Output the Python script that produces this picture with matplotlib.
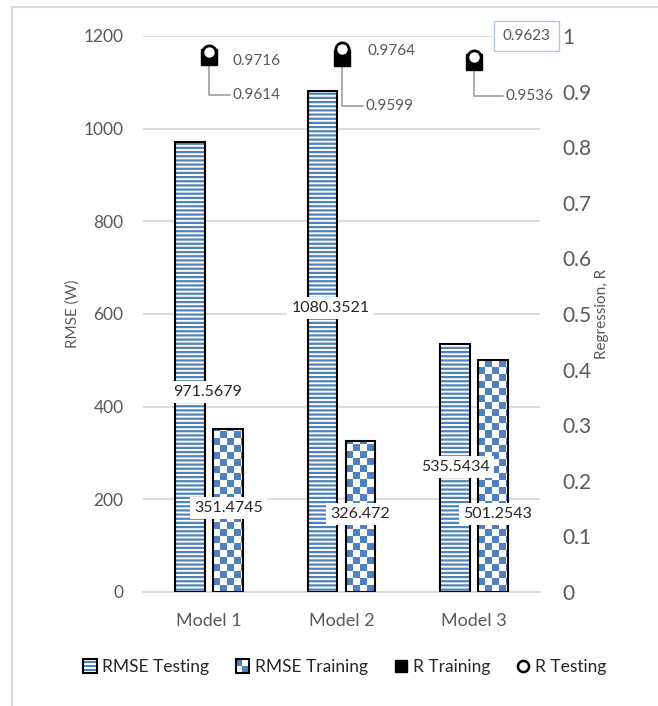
import numpy as np
import matplotlib.pyplot as plt
from matplotlib.patches import Rectangle
from matplotlib.lines import Line2D
from matplotlib.colors import ListedColormap
from matplotlib.legend_handler import HandlerBase

plt.rcParams['font.family'] = ['Lato', 'DejaVu Sans']
plt.rcParams['hatch.linewidth'] = 1.6

# data
models = ['Model 1', 'Model 2', 'Model 3']
rmse_testing = [971.5679, 1080.3521, 535.5434]
rmse_training = [351.4745, 326.472, 501.2543]
r_training = [0.9614, 0.9599, 0.9536]
r_testing = [0.9716, 0.9764, 0.9623]
rmse_ticks = [0, 200, 400, 600, 800, 1000, 1200]
r_ticks = [0, 0.1, 0.2, 0.3, 0.4, 0.5, 0.6, 0.7, 0.8, 0.9, 1]

# where the hand-placed value labels sit (x in category units, y in RMSE units)
test_lbl_pos = [(-0.01, 432), (0.917, 613), (1.86, 270)]
train_lbl_pos = [(0.147, 181), (1.14, 168), (2.18, 168)]
# R labels: offsets in points from the marker
r_test_off = [(17, -6.5), (18.7, -1.4), (37.8, 15.1)]
r_train_off = [(17, -27), (17.3, -34.5), (22.7, -24.5)]

blue = '#4F81BD'
grey_txt = '#595959'
grid_c = '#D9D9D9'

fig = plt.figure(figsize=(6.58, 7.06), dpi=100)
ax = fig.add_axes([143/658, 114/706, 397/658, 556/706])
ax2 = ax.twinx()

x = np.arange(len(models))
w = 0.225
off = 0.143

ax.set_xlim(-0.5, 2.5)
ax.set_ylim(0, 1200)
ax2.set_ylim(0, 1)

# testing bars: blue horizontal stripes
ax.bar(x - off, rmse_testing, w, color='white', edgecolor=blue, hatch='----', lw=0, zorder=2)
ax.bar(x - off, rmse_testing, w, fill=False, edgecolor='black', lw=1.5, zorder=3)

# training bars: checkerboard, built in ~7px cells and clipped to the bar
train_bars = ax.bar(x + off, rmse_training, w, fill=False, edgecolor='black', lw=1.5, zorder=3)
p0 = ax.transData.transform((0, 0))
p1 = ax.transData.transform((1, 1))
px_x = p1[0] - p0[0]
px_y = p1[1] - p0[1]
cell = 7.0
cmap = ListedColormap(['white', blue])
for b in train_bars:
    ncol = int(np.ceil(b.get_width() * px_x / cell))
    nrow = int(np.ceil(b.get_height() * px_y / cell))
    jj, ii = np.meshgrid(np.arange(ncol), np.arange(nrow))
    board = (ii + jj) % 2
    im = ax.imshow(board, extent=(b.get_x(), b.get_x() + ncol * cell / px_x, 0, nrow * cell / px_y),
                   origin='lower', cmap=cmap, interpolation='nearest', aspect='auto', zorder=2)
    im.set_clip_path(b)
ax.set_xlim(-0.5, 2.5)
ax.set_ylim(0, 1200)

# value labels on the bars
for v, (lx, ly) in zip(rmse_testing, test_lbl_pos):
    ax.text(lx, ly, str(v), ha='center', va='center', fontsize=11.5, color='#262626', zorder=6,
            bbox=dict(facecolor='white', edgecolor='none', pad=3))
for v, (lx, ly) in zip(rmse_training, train_lbl_pos):
    ax.text(lx, ly, str(v), ha='center', va='center', fontsize=11.5, color='#262626', zorder=6,
            bbox=dict(facecolor='white', edgecolor='none', pad=3))

# R markers
ax2.plot(x, r_training, 's', color='black', ms=11, zorder=4)
ax2.plot(x, r_testing, 'o', mfc='white', mec='black', mew=2, ms=9.5, zorder=5)

for i, (v, (dx, dy)) in enumerate(zip(r_testing, r_test_off)):
    if i == 2:
        ax2.annotate(f'{v:.4f}', xy=(i, v), xytext=(dx, dy), textcoords='offset points',
                     ha='center', va='center', fontsize=11, color=grey_txt,
                     bbox=dict(facecolor='white', edgecolor='#B4C7E7', pad=6, lw=1))
    else:
        ax2.annotate(f'{v:.4f}', xy=(i, v), xytext=(dx, dy), textcoords='offset points',
                     ha='left', va='center', fontsize=11, color=grey_txt)
for i, (v, (dx, dy)) in enumerate(zip(r_training, r_train_off)):
    ax2.annotate(f'{v:.4f}', xy=(i, v), xytext=(dx, dy), textcoords='offset points',
                 ha='left', va='center', fontsize=11, color=grey_txt,
                 arrowprops=dict(arrowstyle='-', color='#A6A6A6', lw=1.3, shrinkA=0, shrinkB=6,
                                 relpos=(0, 0.5),
                                 connectionstyle='angle,angleA=0,angleB=90,rad=0'))

# axes styling
ax.set_xticks(x)
ax.set_xticklabels(models, fontsize=13, color=grey_txt)
ax.set_yticks(rmse_ticks)
ax.set_yticklabels([str(t) for t in rmse_ticks], fontsize=12.5, color=grey_txt)
ax2.set_yticks(r_ticks)
ax2.set_yticklabels([f'{t:g}' for t in r_ticks], fontsize=15, color=grey_txt)
ax.tick_params(axis='x', length=0, pad=15)
ax.tick_params(axis='y', length=0, pad=14)
ax2.tick_params(axis='y', length=0, pad=16)
ax.grid(axis='y', color=grid_c, lw=1.3)
ax.set_axisbelow(True)
for s in ['top', 'left', 'right']:
    ax.spines[s].set_visible(False)
    ax2.spines[s].set_visible(False)
ax2.spines['bottom'].set_visible(False)
ax.spines['bottom'].set_color(grid_c)
ax.spines['bottom'].set_linewidth(1.3)

ax.set_ylabel('RMSE (W)', fontsize=11, color=grey_txt)
ax.yaxis.set_label_coords(-(143 - 80) / 397, 0.5)
ax2.set_ylabel('Regression, R', fontsize=11, color=grey_txt)
ax2.yaxis.set_label_coords((595 - 143) / 397, 0.5)


# legend swatches
class StripeHandler(HandlerBase):
    def create_artists(self, legend, orig, xd, yd, wd, ht, fontsize, trans):
        s = ht
        x0, y0 = -xd, -yd
        arts = [Rectangle((x0, y0), s, s, facecolor='white', edgecolor='none', transform=trans)]
        for k in range(3):
            arts.append(Rectangle((x0, y0 + s * (0.12 + 0.3 * k)), s, s * 0.18,
                                  facecolor=blue, edgecolor='none', transform=trans))
        arts.append(Rectangle((x0, y0), s, s, fill=False, edgecolor='black', lw=1.5, transform=trans))
        return arts


class CheckerHandler(HandlerBase):
    def create_artists(self, legend, orig, xd, yd, wd, ht, fontsize, trans):
        s = ht
        x0, y0 = -xd, -yd
        arts = [Rectangle((x0, y0), s, s, facecolor='white', edgecolor='none', transform=trans),
                Rectangle((x0, y0 + s / 2), s / 2, s / 2, facecolor=blue, edgecolor='none', transform=trans),
                Rectangle((x0 + s / 2, y0), s / 2, s / 2, facecolor=blue, edgecolor='none', transform=trans),
                Rectangle((x0, y0), s, s, fill=False, edgecolor='black', lw=1.5, transform=trans)]
        return arts


h_test = Rectangle((0, 0), 1, 1)
h_train = Rectangle((0, 0), 1, 1)
h_rtrain = Line2D([], [], marker='s', ls='', color='black', ms=8.5)
h_rtest = Line2D([], [], marker='o', ls='', mfc='white', mec='black', mew=1.8, ms=8)
fig.legend([h_test, h_train, h_rtrain, h_rtest],
           ['RMSE Testing', 'RMSE Training', 'R Training', 'R Testing'],
           handler_map={h_test: StripeHandler(), h_train: CheckerHandler()},
           loc='center', bbox_to_anchor=(345/658, 1 - 667/706), ncol=4, frameon=False,
           fontsize=12.5, handlelength=0.8, handleheight=0.8, handletextpad=0.3,
           columnspacing=1.5, labelcolor='#262626')

# chart border
fig.patches.append(Rectangle((12/658, -0.1), 1.2, 1.1 - 7/706, transform=fig.transFigure,
                             fill=False, edgecolor=grid_c, lw=1.5))

fig.savefig('out.png', dpi=100)
